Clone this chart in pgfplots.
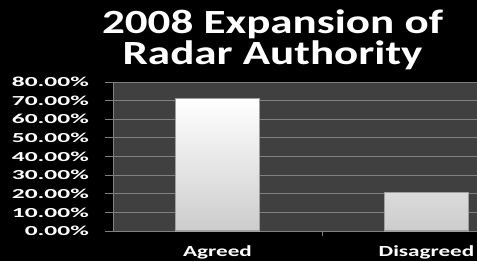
\documentclass[border=0pt]{standalone}
\usepackage{pgfplots}
\pgfplotsset{compat=1.18}
\usepackage{fontspec}
\newfontfamily\titlefont[FakeStretch=1.33]{Carlito}
\newfontfamily\tickfont[FakeStretch=1.85]{Carlito}
\newfontfamily\catfont[FakeStretch=1.5]{Carlito}
\definecolor{plotbg}{RGB}{64,64,64}
\definecolor{gridc}{RGB}{128,128,128}
\begin{document}
\begin{tikzpicture}[x=1bp,y=1bp]
\path[use as bounding box, clip] (0,0) rectangle (477,261);
\fill[black] (0,0) rectangle (477,261);
\begin{axis}[
  at={(113bp,30bp)}, anchor=south west,
  scale only axis, width=418bp, height=149bp,
  xmin=-0.5, xmax=1.5, ymin=0, ymax=80,
  axis background/.style={fill=plotbg},
  axis x line*=bottom, axis y line*=left,
  axis line style={draw=gridc, line width=0.8bp},
  xtick={0,1}, xticklabels={Agreed,Disagreed},
  x tick label style={font=\catfont\bfseries\fontsize{15.5}{16}\selectfont, text=white, inner sep=0pt, anchor=base, yshift=-17bp},
  major x tick style={draw=none},
  extra x ticks={0.5}, extra x tick labels={},
  extra x tick style={major tick length=5bp, tick align=outside, major x tick style={draw=gridc}},
  ytick={0,10,...,80},
  yticklabels={0.00\%,10.00\%,20.00\%,30.00\%,40.00\%,50.00\%,60.00\%,70.00\%,80.00\%},
  y tick label style={font=\tickfont\bfseries\fontsize{13.8}{14}\selectfont, text=white, inner sep=0pt, anchor=east, xshift=-16bp},
  tick align=outside, major tick length=8bp,
  major y tick style={draw=gridc, line width=0.8bp},
  ymajorgrids, grid style={draw=gridc, line width=0.8bp},
]
\addplot[ybar, bar width=0.4, draw=gray!75!white, line width=1.2bp, top color=white, bottom color=black!20] coordinates {(0,71) (1,20.6)};
\end{axis}
\node[anchor=base, text=white, inner sep=1bp, font=\titlefont\bfseries\fontsize{34}{34}\selectfont] at (272.5,228) {2008 Expansion of};
\node[anchor=base, text=white, inner sep=1bp, font=\titlefont\bfseries\fontsize{34}{34}\selectfont] at (272.5,197) {Radar Authority};
\end{tikzpicture}
\end{document}
